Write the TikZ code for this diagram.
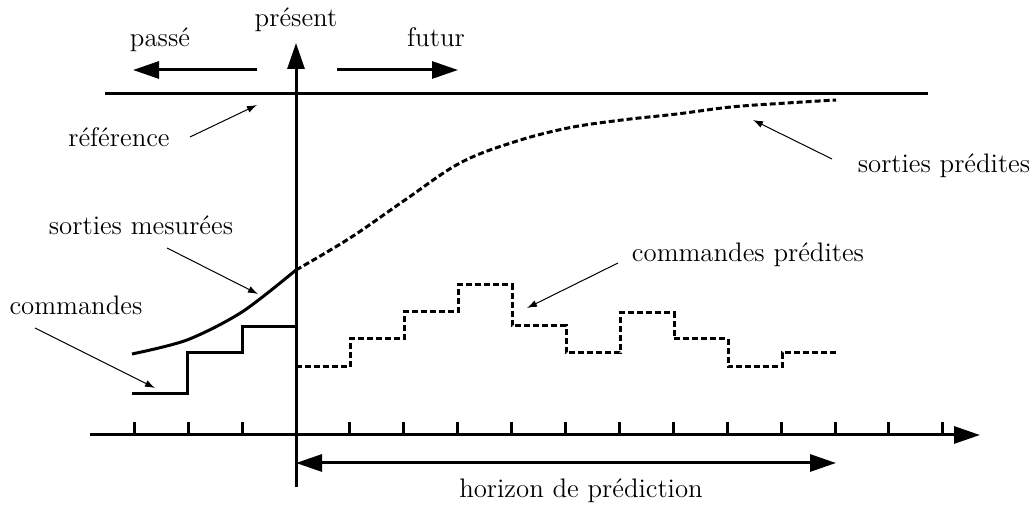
\documentclass[tikz,border=0pt]{standalone}
\usetikzlibrary{arrows.meta}
\begin{document}
\begin{tikzpicture}[x=0.5pt,y=-0.5pt,
  txt/.style={inner sep=0pt,anchor=base,font=\fontsize{13.4pt}{16pt}\selectfont},
  mainline/.style={line width=1.5pt},
  dashline/.style={line width=1.5pt,dash pattern=on 3pt off 1.5pt},
  bigtip/.style={-{Triangle[length=13pt,width=8.5pt]}},
  bothtip/.style={{Triangle[length=13pt,width=8.5pt]}-{Triangle[length=13pt,width=8.5pt]}},
  thin arrow/.style={line width=0.5pt,-{Latex[length=5pt,width=3.5pt]}}]
\useasboundingbox (0,0) rectangle (1035,507);

% texts
\node[txt] (present) at (296,27) {présent};
\node[txt] (passe) at (160,47) {passé};
\node[txt] (futur) at (436,47) {futur};
\node[txt] (reference) at (119,147) {référence};
\node[txt] (smes) at (141,235) {sorties mesurées};
\node[txt] (cmd) at (76,315) {commandes};
\node[txt] (cpred) at (748,262) {commandes prédites};
\node[txt] (spred) at (944,173) {sorties prédites};
\node[txt] (horizon) at (581,498) {horizon de prédiction};

% coordinates
\coordinate (vb) at (296,487);
\coordinate (vt) at (296,43);
\coordinate (ta) at (90,435);
\coordinate (tb) at (980,435);
\coordinate (ra) at (105,94);
\coordinate (rb) at (928,94);
\coordinate (pa) at (257,70);
\coordinate (pb) at (133,70);
\coordinate (fa) at (337,70);
\coordinate (fb) at (458,70);
\coordinate (ha) at (296,463);
\coordinate (hb) at (836,463);

% axes
\draw[mainline,bigtip] (vb) -- (vt);
\draw[mainline,bigtip] (ta) -- (tb);
\foreach \k in {-3,-2,-1,1,2,3,4,5,6,7,8,9,10,11,12}
  \draw[mainline] (296+53.9*\k,435) -- (296+53.9*\k,422);
\draw[mainline] (ra) -- (rb);
\draw[mainline,bigtip] (pa) -- (pb);
\draw[mainline,bigtip] (fa) -- (fb);
\draw[mainline,bothtip] (ha) -- (hb);

% measured outputs
\draw[mainline] plot[smooth,tension=0.5] coordinates {(132,354) (187,340) (242,312) (296,270)};
% predicted outputs
\draw[dashline] plot[smooth,tension=0.6] coordinates {(296,270) (350,238) (405,200) (460,163) (514,142) (568,128) (622,120) (677,114) (731,107) (787,103) (836,100)};

% commands
\draw[mainline] (132,394) -- (187,394) -- (187,353) -- (242,353) -- (242,327) -- (296,327);
% predicted commands
\draw[dashline] (296,367) -- (350,367) -- (350,339) -- (404,339) -- (404,312) -- (458,312)
  -- (458,285) -- (512,285) -- (512,326) -- (566,326) -- (566,353) -- (620,353)
  -- (620,313) -- (674,313) -- (674,339) -- (728,339) -- (728,367) -- (782,367)
  -- (782,353) -- (836,353);

% label arrows
\coordinate (refp) at (257,105);
\coordinate (smesp) at (258,294);
\coordinate (cmdp) at (155,388);
\coordinate (cpredp) at (527,308);
\coordinate (spredp) at (753,120);
\draw[thin arrow] (190,137) -- (refp);
\draw[thin arrow] (167,248) -- (smesp);
\draw[thin arrow] (35,328) -- (cmdp);
\draw[thin arrow] (618,263) -- (cpredp);
\draw[thin arrow] (832,159) -- (spredp);
\end{tikzpicture}
\end{document}
